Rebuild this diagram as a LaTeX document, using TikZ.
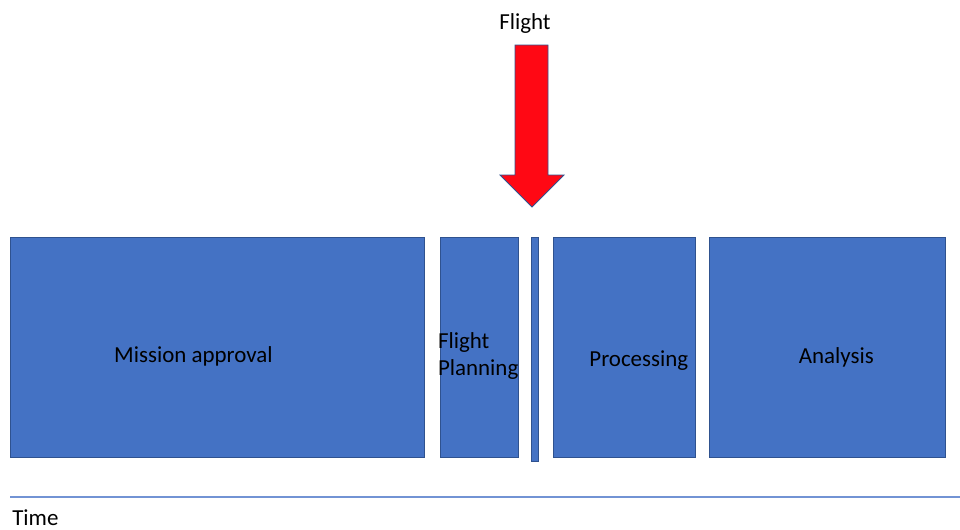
\documentclass[tikz,border=0pt]{standalone}
\usepackage{fontspec}
\setmainfont{Carlito}
\usetikzlibrary{positioning}
\definecolor{boxblue}{RGB}{68,114,196}
\definecolor{edgeblue}{RGB}{47,82,143}
\definecolor{lineblue}{RGB}{114,147,212}
\definecolor{flightred}{RGB}{255,8,20}

\begin{document}
\begin{tikzpicture}[x=0.75pt,y=-0.75pt,% one unit is one pixel of the page, y grows downwards
					every node/.style={
						align=center,		% so that the "\\" for line break works
						font=\fontsize{17.2}{20}\selectfont
						},
					every label/.style={inner sep=0pt},
					phase/.style={rectangle,draw=edgeblue,fill=boxblue,line width=0.6pt,inner sep=0pt,minimum height=165pt}
					]
\useasboundingbox (0,0) rectangle (960,529);
\node[phase,minimum width=310.5pt,anchor=north west,
	label={[xshift=-18pt,yshift=-6.75pt]center:Mission approval}](Approval) at (10,237){};
\node[phase,minimum width=58.5pt,below right=0pt and 11.25pt of Approval.north east,
	label={[anchor=west,align=left,xshift=-1.5pt,yshift=-6.5pt]west:{Flight\\Planning}}](Planning){};
\node[phase,minimum width=5.25pt,minimum height=168pt,below right=0pt and 9pt of Planning.north east](Fly){};
\node[phase,minimum width=106.5pt,below right=0pt and 11.25pt of Fly.north east,
	label={[xshift=10.5pt,yshift=-9.75pt]center:Processing}](Processing){};
\node[phase,minimum width=177pt,below right=0pt and 9.75pt of Processing.north east,
	label={[xshift=6.5pt,yshift=-7.5pt]center:Analysis}](Analysis){};
\node(Flight) at (525,24){Flight};
% the arrow pointing at the flight itself
\draw[draw=edgeblue,fill=flightred,line width=0.6pt]
	(515,45) -- (548,45) -- (548,175) -- (564,175) -- (532,207) -- (500,175) -- (515,175) -- cycle;
% time line
\coordinate(T0) at (10,497);
\coordinate(T1) at (960,497);
\draw[lineblue,line width=1.2pt](T0) -- (T1);
\node[anchor=west,inner sep=0pt](Time) at (12,518){Time};
\end{tikzpicture}
\end{document}
